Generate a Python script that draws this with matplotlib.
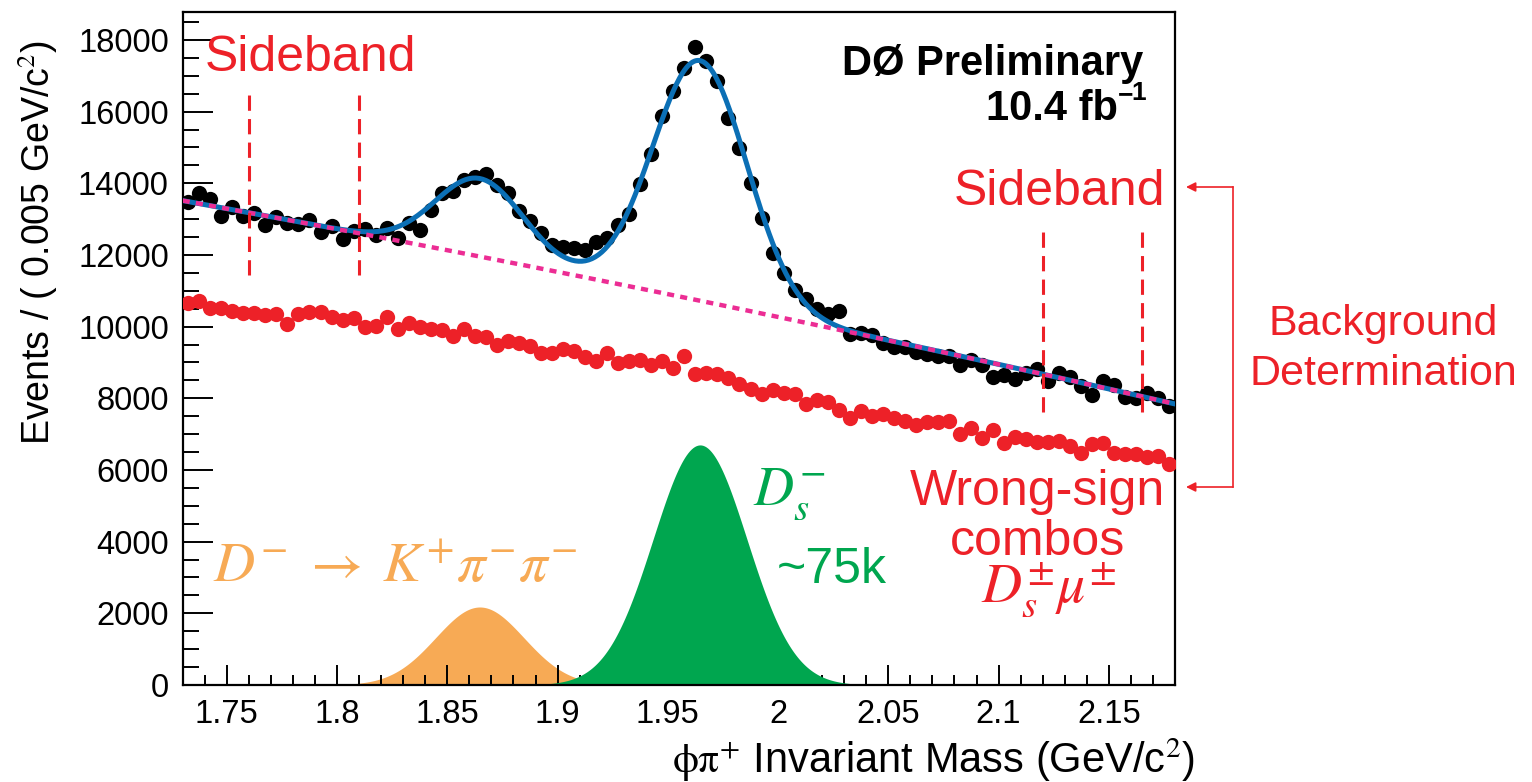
import numpy as np
import matplotlib
matplotlib.use("Agg")
import matplotlib.pyplot as plt

W, H = 1532, 782

# histogram binning: 90 bins of 0.005 GeV starting at 1.73
bin_lo = 1.73
bin_w = 0.005
n_bins = 90

# right-sign phi-pi candidates (black)
right_sign = [13472, 13723, 13564, 13090, 13350, 13090, 13165, 12838, 13070, 12885,
              12866, 12978, 12635, 12810, 12440, 12671, 12718, 12560, 12746, 12484,
              12903, 12710, 13265, 13730, 13780, 14100, 14180, 14253, 13955, 13740,
              13229, 12950, 12624, 12280, 12233, 12188, 12141, 12372, 12467, 12838,
              13137, 13974, 14811, 15880, 16587, 17211, 17798, 17415, 16857, 15816,
              14979, 14002, 13042, 12065, 11500, 11010, 10770, 10485, 10346, 10438,
              9796, 9815, 9768, 9554, 9425, 9442, 9302, 9238, 9182, 9182,
              8931, 9071, 8931, 8604, 8652, 8532, 8716, 8811, 8493, 8716,
              8604, 8345, 8094, 8484, 8373, 8047, 8002, 8141, 8002, 7795]

# wrong-sign combos (red)
wrong_sign = [10670, 10717, 10513, 10513, 10438, 10374, 10374, 10327, 10346, 10067,
              10346, 10419, 10419, 10279, 10187, 10234, 10000, 10028, 10262, 9927,
              10095, 10000, 9927, 9908, 9741, 9927, 9741, 9704, 9489, 9609,
              9537, 9461, 9274, 9257, 9369, 9330, 9163, 9043, 9274, 8978,
              9043, 9071, 8931, 9043, 8839, 9170, 8690, 8699, 8672, 8576,
              8392, 8253, 8113, 8233, 8158, 8113, 7834, 7954, 7907, 7675,
              7443, 7647, 7508, 7563, 7460, 7368, 7257, 7349, 7349, 7368,
              6997, 7164, 6902, 7117, 6763, 6930, 6857, 6774, 6774, 6819,
              6670, 6467, 6718, 6763, 6484, 6439, 6439, 6372, 6391, 6160]

# fit parameters
bkg_pars = [13517, -11142, -3262]        # quadratic in (m - 1.73)
dplus_pars = [2177, 1.8647, 0.0200]      # amplitude, mean, sigma
ds_pars = [6700, 1.9646, 0.0213]

sidebands = [1.76, 1.81, 2.12, 2.165]

centers = bin_lo + bin_w * (np.arange(n_bins) + 0.5)
m = np.linspace(1.73, 2.18, 600)


def bkg(x):
    u = x - 1.73
    return bkg_pars[0] + bkg_pars[1] * u + bkg_pars[2] * u ** 2


def gaus(x, p):
    return p[0] * np.exp(-0.5 * ((x - p[1]) / p[2]) ** 2)


plt.rcParams['mathtext.fontset'] = 'stix'
plt.rcParams['font.family'] = ['Liberation Sans', 'DejaVu Sans']

RED = '#ED2128'
GREEN = '#00A64F'
ORANGE = '#F7AA55'
BLUE = '#0B6FB5'
MAGENTA = '#EC2D94'

fig = plt.figure(figsize=(W / 100, H / 100), dpi=100)
ax = fig.add_axes([182.7 / W, 97 / H, 992.3 / W, 673 / H])

ax.fill_between(m, 0, gaus(m, dplus_pars), color=ORANGE, lw=0, zorder=1)
ax.fill_between(m, 0, gaus(m, ds_pars), color=GREEN, lw=0, zorder=2)

ax.plot(centers, wrong_sign, 'o', color=RED, ms=11, mec='none', zorder=3)
ax.plot(centers, right_sign, 'o', color='black', ms=11, mec='none', zorder=4)

ax.plot(m, bkg(m) + gaus(m, dplus_pars) + gaus(m, ds_pars), color=BLUE, lw=3.6, zorder=5)
ax.plot(m, bkg(m), color=MAGENTA, lw=3.2, dashes=(1.6, 1.4), zorder=6)

for i, xs in enumerate(sidebands):
    y0, y1 = (11450, 16500) if i < 2 else (7620, 12800)
    ax.plot([xs, xs], [y0, y1], color=RED, lw=2.2, dashes=(5, 2.7), zorder=7)

ax.set_xlim(1.73, 2.18)
ax.set_ylim(0, 18780)
ax.set_xticks([1.75, 1.8, 1.85, 1.9, 1.95, 2.0, 2.05, 2.1, 2.15])
ax.set_xticklabels(['1.75', '1.8', '1.85', '1.9', '1.95', '2', '2.05', '2.1', '2.15'])
ax.set_xticks(np.arange(1.74, 2.18, 0.01), minor=True)
ax.set_yticks(np.arange(0, 18001, 2000))
ax.set_yticks(np.arange(0, 18700, 500), minor=True)
ax.tick_params(axis='x', which='major', direction='in', length=14.4, width=1.4,
               pad=10, labelsize=23.5)
ax.tick_params(axis='x', which='minor', direction='in', length=7.2, width=1.4)
ax.tick_params(axis='y', which='major', direction='in', length=21.6, width=1.4,
               pad=10, labelsize=23.5)
ax.tick_params(axis='y', which='minor', direction='in', length=11.5, width=1.4)
for sp in ax.spines.values():
    sp.set_linewidth(1.6)


def ftext(x, y, s, **kw):
    fig.text(x / W, 1 - y / H, s, **kw)


ftext(38, 40, 'Events / ( 0.005 GeV/c$^{2}$)', rotation=90, ha='center', va='top',
      fontsize=27)
ftext(1195, 760, r'$\mathrm{\phi\pi^{+}}$ Invariant Mass (GeV/c$^{2}$)', ha='right',
      va='center', fontsize=30)

ftext(205, 71, 'Sideband', color=RED, fontsize=36, ha='left', va='baseline')
ftext(1165, 205, 'Sideband', color=RED, fontsize=36, ha='right', va='baseline')
ftext(1143, 75, 'DØ Preliminary', fontsize=30, weight='bold', ha='right', va='baseline')
ftext(1118, 120, '10.4 fb', fontsize=30, weight='bold', ha='right', va='baseline')
ftext(1118, 102, '\u2212', fontsize=19, weight='bold', ha='left', va='baseline')
ftext(1131, 100, '1', fontsize=19, weight='bold', ha='left', va='baseline')
ftext(1383, 335, 'Background', color=RED, fontsize=31, ha='center', va='baseline')
ftext(1383, 385, 'Determination', color=RED, fontsize=31, ha='center', va='baseline')
ftext(1037, 505, 'Wrong-sign', color=RED, fontsize=36, ha='center', va='baseline')
ftext(1037, 555, 'combos', color=RED, fontsize=36, ha='center', va='baseline')
ftext(1048, 602, r'$D_s^{\pm}\mu^{\pm}$', color=RED, fontsize=40, ha='center', va='baseline')
ftext(753, 505, r'$D_s^{-}$', color=GREEN, fontsize=40, ha='left', va='baseline')
ftext(777, 583, '~75k', color=GREEN, fontsize=36, ha='left', va='baseline')
ftext(213, 582, r'$D^{-}\;\rightarrow\;K^{+}\pi^{-}\pi^{-}$', color=ORANGE, fontsize=41,
      ha='left', va='baseline')

# bracket linking the two background samples
bx = 1233 / W
for yy in (187, 487):
    ax.annotate('', xy=(1186 / W, 1 - yy / H), xytext=(bx, 1 - yy / H),
                xycoords='figure fraction', textcoords='figure fraction',
                arrowprops=dict(arrowstyle='-|>', color=RED, lw=1.2,
                                mutation_scale=14, shrinkA=0, shrinkB=0))
fig.add_artist(plt.Line2D([bx, bx], [1 - 187 / H, 1 - 487 / H], color=RED, lw=1.2,
                          transform=fig.transFigure))

fig.savefig('out.png', dpi=100)
